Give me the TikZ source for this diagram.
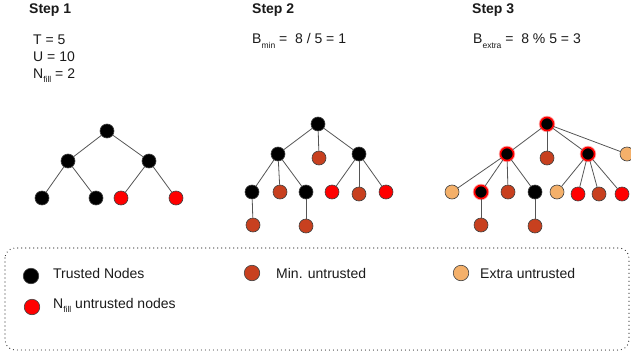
\documentclass[tikz,border=0pt]{standalone}
\usepackage{fontspec}
\setmainfont{Liberation Sans}
\definecolor{minc}{HTML}{C8401F}
\definecolor{extc}{HTML}{F4B06A}
\definecolor{txtc}{HTML}{1A1A1A}
\definecolor{edgec}{HTML}{555555}
\newcommand\mysub[1]{\raisebox{-4.5pt}{\fontsize{8.5}{9}\selectfont #1}}
\begin{document}
\begin{tikzpicture}[x=1pt,y=-1pt,
  nd/.style={circle, minimum size=14pt, inner sep=0pt, draw=black!75, line width=0.6pt},
  trusted/.style={nd, fill=black},
  fillu/.style={nd, fill=red},
  minu/.style={nd, fill=minc},
  extra/.style={nd, fill=extc},
  trustedr/.style={circle, minimum size=13pt, inner sep=0pt, fill=black, draw=red, line width=1.6pt,
     preaction={draw=red!35, line width=3.4pt}},
  lg/.style={minimum size=15.5pt},
  txt/.style={anchor=base west, inner sep=0pt, text=txtc, font=\fontsize{14}{16}\selectfont},
  edge/.style={draw=edgec, line width=0.8pt}]
\useasboundingbox (0,0) rectangle (631,361);

% ---------- Step 1 ----------
\node[txt, font=\fontsize{14}{16}\selectfont\bfseries] (s1) at (29,13.5) {Step 1};
\node[txt] (t1) at (33,45) {T = 5};
\node[txt] (t2) at (33,62) {U = 10};
\node[txt] (t3) at (33,78) {N\mysub{fill} = 2};

\node[trusted] (a1) at (107,131) {};
\node[trusted] (a2) at (68,161) {};
\node[trusted] (a3) at (149,161) {};
\node[trusted] (a4) at (42,198) {};
\node[trusted] (a5) at (96,198) {};
\node[fillu] (a6) at (121,198) {};
\node[fillu] (a7) at (176,198) {};
\draw[edge] (a1) -- (a2);
\draw[edge] (a1) -- (a3);
\draw[edge] (a2) -- (a4);
\draw[edge] (a2) -- (a5);
\draw[edge] (a3) -- (a6);
\draw[edge] (a3) -- (a7);

% ---------- Step 2 ----------
\node[txt, font=\fontsize{14}{16}\selectfont\bfseries] (s2) at (252,13.5) {Step 2};
\node[txt] (bm) at (252,44) {B\mysub{min} =\ \ 8 / 5 = 1};

\node[trusted] (b1) at (318,124) {};
\node[trusted] (b2) at (278,154) {};
\node[minu] (b3) at (319,158) {};
\node[trusted] (b4) at (359,154) {};
\node[trusted] (b5) at (252,192) {};
\node[minu] (b6) at (280,192) {};
\node[trusted] (b7) at (306,192) {};
\node[fillu] (b8) at (332,192) {};
\node[minu] (b9) at (359,194) {};
\node[fillu] (b10) at (386,192) {};
\node[minu] (b11) at (253,225) {};
\node[minu] (b12) at (306,226) {};
\draw[edge] (b1) -- (b2);
\draw[edge] (b1) -- (b3);
\draw[edge] (b1) -- (b4);
\draw[edge] (b2) -- (b5);
\draw[edge] (b2) -- (b6);
\draw[edge] (b2) -- (b7);
\draw[edge] (b4) -- (b8);
\draw[edge] (b4) -- (b9);
\draw[edge] (b4) -- (b10);
\draw[edge] (b5) -- (b11);
\draw[edge] (b7) -- (b12);

% ---------- Step 3 ----------
\node[txt, font=\fontsize{14}{16}\selectfont\bfseries] (s3) at (472,13.5) {Step 3};
\node[txt] (be) at (473,44) {B\mysub{extra} =\ \ 8 \% 5 = 3};

\node[trustedr] (c1) at (547,124) {};
\node[trustedr] (c2) at (507,154) {};
\node[minu] (c3) at (547,158) {};
\node[trustedr] (c4) at (588,154) {};
\node[extra] (c5) at (627,154) {};
\node[extra] (c6) at (452,192) {};
\node[trustedr] (c7) at (481,192) {};
\node[minu] (c8) at (508,192) {};
\node[trusted] (c9) at (535,192) {};
\node[extra] (c10) at (557,192) {};
\node[fillu] (c11) at (578,194) {};
\node[minu] (c12) at (599,194) {};
\node[fillu] (c13) at (622,194) {};
\node[minu] (c14) at (481,225) {};
\node[minu] (c15) at (535,226) {};
\draw[edge] (c1) -- (c2);
\draw[edge] (c1) -- (c3);
\draw[edge] (c1) -- (c4);
\draw[edge] (c1) -- (c5);
\draw[edge] (c2) -- (c6);
\draw[edge] (c2) -- (c7);
\draw[edge] (c2) -- (c8);
\draw[edge] (c2) -- (c9);
\draw[edge] (c4) -- (c10);
\draw[edge] (c4) -- (c11);
\draw[edge] (c4) -- (c12);
\draw[edge] (c4) -- (c13);
\draw[edge] (c7) -- (c14);
\draw[edge] (c9) -- (c15);

% ---------- Legend ----------
\draw[draw=black!85, line width=1.2pt, line cap=round, dash pattern=on 0pt off 4pt, rounded corners=10pt]
  (5,248) rectangle (629,350);
\node[trusted, lg] (l1) at (31,276) {};
\node[txt] (lt1) at (53,278) {Trusted Nodes};
\node[fillu, lg] (l2) at (32,307) {};
\node[txt] (lt2) at (53,308) {N\mysub{fill} untrusted nodes};
\node[minu, lg] (l3) at (252,273) {};
\node[txt] (lt3) at (276,278) {Min. untrusted};
\node[extra, lg] (l4) at (461,273) {};
\node[txt] (lt4) at (480,278) {Extra untrusted};
\end{tikzpicture}
\end{document}
